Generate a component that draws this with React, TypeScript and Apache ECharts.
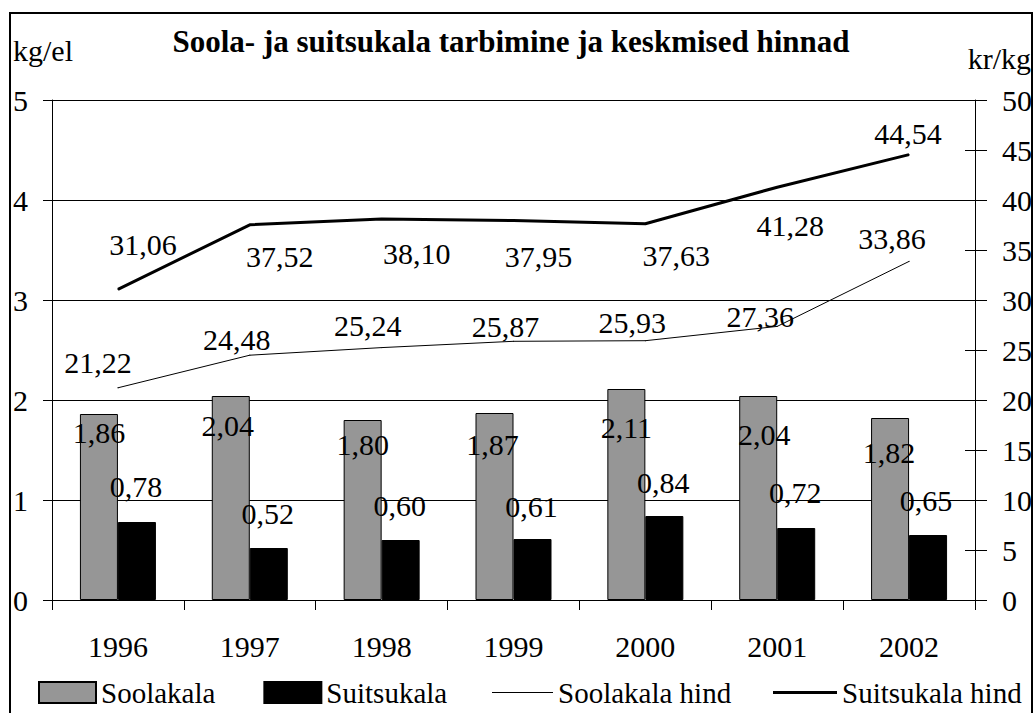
import React, { useEffect, useRef } from "react";
import * as echarts from "echarts";

const categories = ["1996", "1997", "1998", "1999", "2000", "2001", "2002"];
const soolakala = [1.86, 2.04, 1.8, 1.87, 2.11, 2.04, 1.82];
const suitsukala = [0.78, 0.52, 0.6, 0.61, 0.84, 0.72, 0.65];
const soolakalaHind = [21.22, 24.48, 25.24, 25.87, 25.93, 27.36, 33.86];
const suitsukalaHind = [31.06, 37.52, 38.1, 37.95, 37.63, 41.28, 44.54];

const leftAxis = { min: 0, max: 5, interval: 1 };
const rightAxis = { min: 0, max: 50, interval: 5 };

// label placement (pixel offsets), kept separate from the data
const soolakalaLabelOffset = [[0, 18], [-3, 29], [0, 24], [-2, 31], [0, 38], [6, 38], [-1, 34]];
const suitsukalaLabelOffset = [[-1, -36], [-1, -35], [-1, -35], [-1, -33], [-1, -34], [-1, -36], [-2, -35]];
const soolakalaHindLabelOffset = [[-20, -25], [-13, -16], [-14, -22], [-8, -15], [-13, -18], [-17, -10], [-17, -23]];
const suitsukalaHindLabelOffset = [[25, -45], [30, 32], [35, 34], [25, 36], [31, 32], [13, 38], [-1, -21]];

const FONT = "Times New Roman, Liberation Serif, Tinos, DejaVu Serif, serif";
const fmt = (v: number) => v.toFixed(2).replace(".", ",");

export default function App() {
  const ref = useRef<HTMLDivElement>(null);

  useEffect(() => {
    if (!ref.current) return;
    const chart = echarts.init(ref.current, null, { renderer: "svg" });

    const barData = (vals: number[], offs: number[][]) =>
      vals.map((v, i) => ({
        value: v,
        label: { position: ["50%", offs[i][1]], offset: [offs[i][0], 0] },
      }));
    const lineData = (vals: number[], offs: number[][]) =>
      vals.map((v, i) => ({
        value: v,
        label: { offset: offs[i] },
      }));

    const labelBase = {
      show: true,
      color: "#000",
      fontFamily: FONT,
      fontSize: 30,
      align: "center",
      verticalAlign: "middle",
      formatter: (p: any) => fmt(p.value),
    };

    const axisText = { color: "#000", fontFamily: FONT, fontSize: 30 };
    const legendText = { color: "#000", fontFamily: FONT, fontSize: 29 };

    chart.setOption({
      animation: false,
      backgroundColor: "#fff",
      textStyle: { fontFamily: FONT },
      grid: { left: 52, right: 61, top: 100, bottom: 113, containLabel: false },
      xAxis: {
        type: "category",
        data: categories,
        boundaryGap: true,
        axisLine: { lineStyle: { color: "#000", width: 1 } },
        axisTick: { show: true, length: 10, lineStyle: { color: "#000" } },
        axisLabel: { ...axisText, margin: 31 },
        splitLine: { show: false },
      },
      yAxis: [
        {
          type: "value",
          position: "left",
          ...leftAxis,
          axisLine: { show: true, lineStyle: { color: "#000", width: 1 } },
          axisTick: { show: true, length: 9, lineStyle: { color: "#000" } },
          axisLabel: { ...axisText, margin: 24 },
          splitLine: { show: true, lineStyle: { color: "#000", width: 1 } },
        },
        {
          type: "value",
          position: "right",
          ...rightAxis,
          axisLine: { show: true, lineStyle: { color: "#000", width: 1 } },
          axisTick: { show: true, length: 12, lineStyle: { color: "#000" } },
          axisLabel: { ...axisText, margin: 27 },
          splitLine: { show: false },
        },
        {
          type: "value",
          position: "right",
          ...rightAxis,
          axisLine: { show: false },
          axisTick: { show: true, inside: true, length: 10, lineStyle: { color: "#000" } },
          axisLabel: { show: false },
          splitLine: { show: false },
        },
      ],
      legend: [
        {
          data: ["Soolakala", "Suitsukala"],
          left: 33,
          top: 673,
          itemWidth: 57,
          itemHeight: 21,
          itemGap: 48,
          icon: "rect",
          textStyle: legendText,
        },
        {
          data: ["Soolakala hind"],
          left: 487,
          top: 673,
          itemWidth: 61,
          itemHeight: 1,
          icon: "rect",
          textStyle: legendText,
        },
        {
          data: ["Suitsukala hind"],
          left: 768,
          top: 673,
          itemWidth: 64,
          itemHeight: 3,
          icon: "rect",
          textStyle: legendText,
        },
      ],
      graphic: [
        {
          type: "rect",
          shape: { x: 10, y: 13, width: 1022, height: 720 },
          style: { fill: "none", stroke: "#000", lineWidth: 2 },
          silent: true,
          z: 100,
        },
        {
          type: "text",
          x: 511,
          y: 41,
          style: {
            text: "Soola- ja suitsukala tarbimine ja keskmised hinnad",
            fill: "#000",
            fontFamily: FONT,
            fontSize: 31,
            fontWeight: "bold",
            align: "center",
            verticalAlign: "middle",
          },
        },
        {
          type: "text",
          x: 13,
          y: 50,
          style: {
            text: "kg/el",
            fill: "#000",
            fontFamily: FONT,
            fontSize: 30,
            align: "left",
            verticalAlign: "middle",
          },
        },
        {
          type: "text",
          x: 1031,
          y: 58,
          style: {
            text: "kr/kg",
            fill: "#000",
            fontFamily: FONT,
            fontSize: 30,
            align: "right",
            verticalAlign: "middle",
          },
        },
      ],
      series: [
        {
          name: "Soolakala",
          type: "bar",
          yAxisIndex: 0,
          barWidth: 38,
          barGap: "0%",
          itemStyle: { color: "#969696", borderColor: "#000", borderWidth: 1 },
          label: { ...labelBase },
          data: barData(soolakala, soolakalaLabelOffset),
          z: 2,
        },
        {
          name: "Suitsukala",
          type: "bar",
          yAxisIndex: 0,
          barWidth: 38,
          itemStyle: { color: "#000", borderColor: "#000", borderWidth: 1 },
          label: { ...labelBase },
          data: barData(suitsukala, suitsukalaLabelOffset),
          z: 2,
        },
        {
          name: "Soolakala hind",
          type: "line",
          yAxisIndex: 1,
          symbol: "circle",
          symbolSize: 1,
          showSymbol: true,
          itemStyle: { color: "#000" },
          lineStyle: { color: "#000", width: 1 },
          label: { ...labelBase, position: "inside" },
          data: lineData(soolakalaHind, soolakalaHindLabelOffset),
          z: 3,
        },
        {
          name: "Suitsukala hind",
          type: "line",
          yAxisIndex: 1,
          symbol: "circle",
          symbolSize: 1,
          showSymbol: true,
          itemStyle: { color: "#000" },
          lineStyle: { color: "#000", width: 3 },
          label: { ...labelBase, position: "inside" },
          data: lineData(suitsukalaHind, suitsukalaHindLabelOffset),
          z: 3,
        },
      ],
    });

    return () => chart.dispose();
  }, []);

  return (
    <div
      ref={ref}
      style={{ position: "fixed", left: 0, top: 0, width: 1036, height: 713, background: "#fff" }}
    />
  );
}
